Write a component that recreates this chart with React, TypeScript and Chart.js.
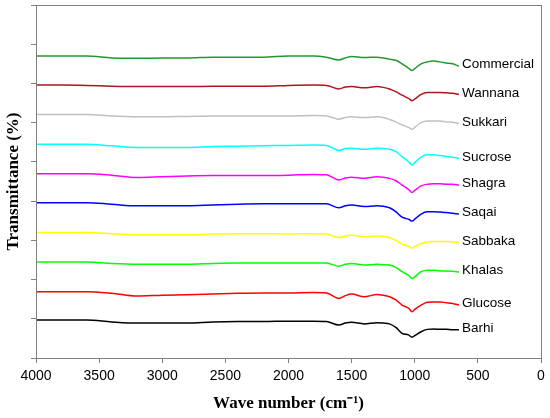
import { useEffect, useRef } from "react"
import { Chart, registerables } from "chart.js"

Chart.register(...registerables)

// wave numbers (cm-1), read along the reversed x axis
const waveNumbers = [
  4000, 3800, 3600, 3400, 3200, 3000, 2800, 2600, 2400, 2200, 2000, 1800, 1700, 1600, 1550, 1500,
  1400, 1300, 1250, 1200, 1150, 1100, 1050, 1020, 1000, 950, 900, 850, 800, 750, 700, 650,
]

const sampleNames = [
  "Commercial", "Wannana", "Sukkari", "Sucrose", "Shagra",
  "Saqai", "Sabbaka", "Khalas", "Glucose", "Barhi",
]

const sampleColors = [
  "#22992a", "#b0141c", "#c0c0c0", "#00ffff", "#ff00ff",
  "#0000ff", "#ffff00", "#00ff00", "#ff0000", "#000000",
]

// stacked transmittance traces (arbitrary offset units)
const commercial = [77.0, 77.0, 77.0, 76.5, 76.4, 76.5, 76.5, 76.7, 76.7, 76.7, 77.0, 77.0, 76.7, 76.0, 76.5, 76.9, 76.6, 76.7, 76.5, 76.2, 75.9, 75.0, 73.9, 73.3, 73.8, 75.0, 75.5, 75.7, 75.5, 75.2, 75.0, 74.4]
const wannana = [69.6, 69.6, 69.5, 69.3, 69.2, 69.2, 69.2, 69.3, 69.3, 69.3, 69.5, 69.6, 69.5, 68.6, 69.1, 69.2, 68.9, 69.2, 69.0, 68.6, 67.9, 67.0, 66.2, 65.6, 66.0, 67.2, 67.7, 67.7, 67.7, 67.6, 67.5, 67.2]
const sukkari = [62.1, 62.1, 62.1, 61.7, 61.5, 61.5, 61.6, 61.7, 61.7, 61.7, 61.7, 61.8, 61.7, 60.9, 61.3, 61.5, 61.3, 61.5, 61.3, 60.8, 60.2, 59.4, 58.8, 58.3, 58.8, 60.0, 60.4, 60.4, 60.4, 60.2, 60.1, 59.8]
const sucrose = [54.5, 54.5, 54.5, 54.1, 53.7, 53.7, 53.7, 53.9, 54.0, 54.1, 54.2, 54.3, 54.2, 52.9, 53.4, 53.5, 53.2, 53.5, 53.4, 53.2, 52.6, 51.3, 50.1, 49.2, 49.8, 51.2, 51.8, 51.8, 51.6, 51.4, 51.2, 50.9]
const shagra = [47.0, 47.0, 47.0, 46.6, 46.0, 46.2, 46.4, 46.5, 46.5, 46.5, 46.6, 46.8, 46.7, 45.4, 45.9, 46.1, 45.8, 46.2, 46.1, 45.8, 45.2, 44.1, 43.0, 42.2, 42.7, 43.9, 44.3, 44.4, 44.4, 44.3, 44.3, 44.1]
const saqai = [39.6, 39.6, 39.6, 39.2, 38.8, 38.8, 38.8, 39.0, 39.2, 39.3, 39.3, 39.3, 39.3, 38.3, 38.8, 39.0, 38.6, 38.8, 38.7, 38.3, 37.3, 35.9, 35.4, 34.9, 35.4, 36.7, 37.3, 37.3, 37.2, 37.1, 36.9, 36.7]
const sabbaka = [32.0, 32.0, 32.0, 31.7, 31.4, 31.4, 31.4, 31.6, 31.7, 31.7, 31.6, 31.7, 31.6, 30.7, 31.1, 31.3, 30.9, 31.1, 31.0, 30.7, 30.0, 29.0, 28.5, 28.0, 28.4, 29.2, 29.6, 29.7, 29.7, 29.7, 29.6, 29.5]
const khalas = [24.5, 24.5, 24.5, 24.1, 23.9, 23.9, 23.9, 24.1, 24.2, 24.2, 24.2, 24.2, 24.2, 23.4, 23.9, 24.1, 23.7, 23.9, 23.8, 23.7, 23.1, 22.0, 21.1, 20.3, 20.7, 22.0, 22.4, 22.4, 22.2, 22.2, 22.1, 21.9]
const glucose = [16.9, 16.9, 16.9, 16.5, 15.8, 16.0, 16.1, 16.3, 16.5, 16.6, 16.6, 16.7, 16.6, 15.2, 15.9, 16.3, 15.6, 16.2, 16.0, 15.6, 14.8, 13.5, 12.7, 11.8, 12.4, 13.5, 14.2, 14.3, 14.3, 14.1, 13.9, 13.5]
const barhi = [9.7, 9.7, 9.7, 9.2, 8.9, 8.9, 8.9, 9.2, 9.3, 9.3, 9.4, 9.4, 9.3, 8.4, 8.9, 9.1, 8.7, 9.0, 8.9, 8.7, 7.8, 6.3, 5.9, 5.3, 5.7, 6.7, 7.3, 7.4, 7.3, 7.3, 7.2, 7.2]

const traces = [commercial, wannana, sukkari, sucrose, shagra, saqai, sabbaka, khalas, glucose, barhi]

const frameColor = "#808080"

// frame round the plot area + sample names at the end of each trace
const framePlugin = {
  id: "frameAndNames",
  afterDraw(chart: Chart) {
    const { ctx, chartArea } = chart
    ctx.save()
    ctx.strokeStyle = frameColor
    ctx.lineWidth = 1
    ctx.strokeRect(chartArea.left + 0.5, chartArea.top + 0.5, chartArea.right - chartArea.left, chartArea.bottom - chartArea.top)

    ctx.font = "13.5px 'Liberation Sans', Arial, sans-serif"
    ctx.fillStyle = "#000"
    ctx.textAlign = "left"
    ctx.textBaseline = "middle"
    chart.data.datasets.forEach((ds, i) => {
      const meta = chart.getDatasetMeta(i)
      const last = meta.data[meta.data.length - 1]
      if (!last) return
      ctx.fillText(ds.label as string, last.x + 3, last.y - 1.5)
    })
    ctx.restore()
  },
}

export default function App() {
  const canvasRef = useRef<HTMLCanvasElement>(null)
  const chartRef = useRef<Chart | null>(null)

  useEffect(() => {
    if (!canvasRef.current) return
    if (chartRef.current) chartRef.current.destroy()

    const ctx = canvasRef.current.getContext("2d")
    if (!ctx) return

    chartRef.current = new Chart(ctx, {
      type: "line",
      data: {
        datasets: traces.map((vals, i) => ({
          label: sampleNames[i],
          data: vals.map((v, j) => ({ x: waveNumbers[j], y: v })),
          borderColor: sampleColors[i],
          borderWidth: 1.5,
          pointRadius: 0,
          cubicInterpolationMode: "monotone" as const,
          fill: false,
        })),
      },
      options: {
        animation: false,
        responsive: true,
        maintainAspectRatio: false,
        layout: { padding: { top: 5, right: 9, left: 0, bottom: 0 } },
        plugins: {
          legend: { display: false },
          tooltip: { enabled: false },
        },
        scales: {
          x: {
            type: "linear",
            reverse: true,
            min: 0,
            max: 4000,
            border: { display: false },
            grid: { drawOnChartArea: false, drawTicks: true, tickLength: 5, color: frameColor },
            ticks: {
              stepSize: 500,
              padding: 5,
              color: "#000",
              font: { family: "'Liberation Sans', Arial, sans-serif", size: 14 },
              maxRotation: 0,
              callback: (value) => String(value),
            },
            title: {
              display: true,
              text: "Wave number (cm\u207B\u00B9)",
              color: "#000",
              font: { family: "'Liberation Serif', 'Times New Roman', serif", size: 17, weight: "bold" },
              padding: { top: 0, bottom: 4 },
            },
            afterFit: (scale) => {
              scale.height = 60
            },
          },
          y: {
            min: 0,
            max: 90,
            border: { display: false },
            grid: { drawOnChartArea: false, drawTicks: true, tickLength: 5, color: frameColor },
            ticks: { stepSize: 10, display: false },
            title: {
              display: true,
              text: "Transmittance (%)",
              color: "#000",
              font: { family: "'Liberation Serif', 'Times New Roman', serif", size: 17, weight: "bold" },
              padding: { top: 3, bottom: 0 },
            },
            afterFit: (scale) => {
              scale.width = 36
            },
          },
        },
      },
      plugins: [framePlugin],
    })

    return () => {
      if (chartRef.current) {
        chartRef.current.destroy()
        chartRef.current = null
      }
    }
  }, [])

  return (
    <div style={{ position: "absolute", left: 0, top: 0, width: 550, height: 418, background: "#fff" }}>
      <canvas ref={canvasRef} />
    </div>
  )
}
